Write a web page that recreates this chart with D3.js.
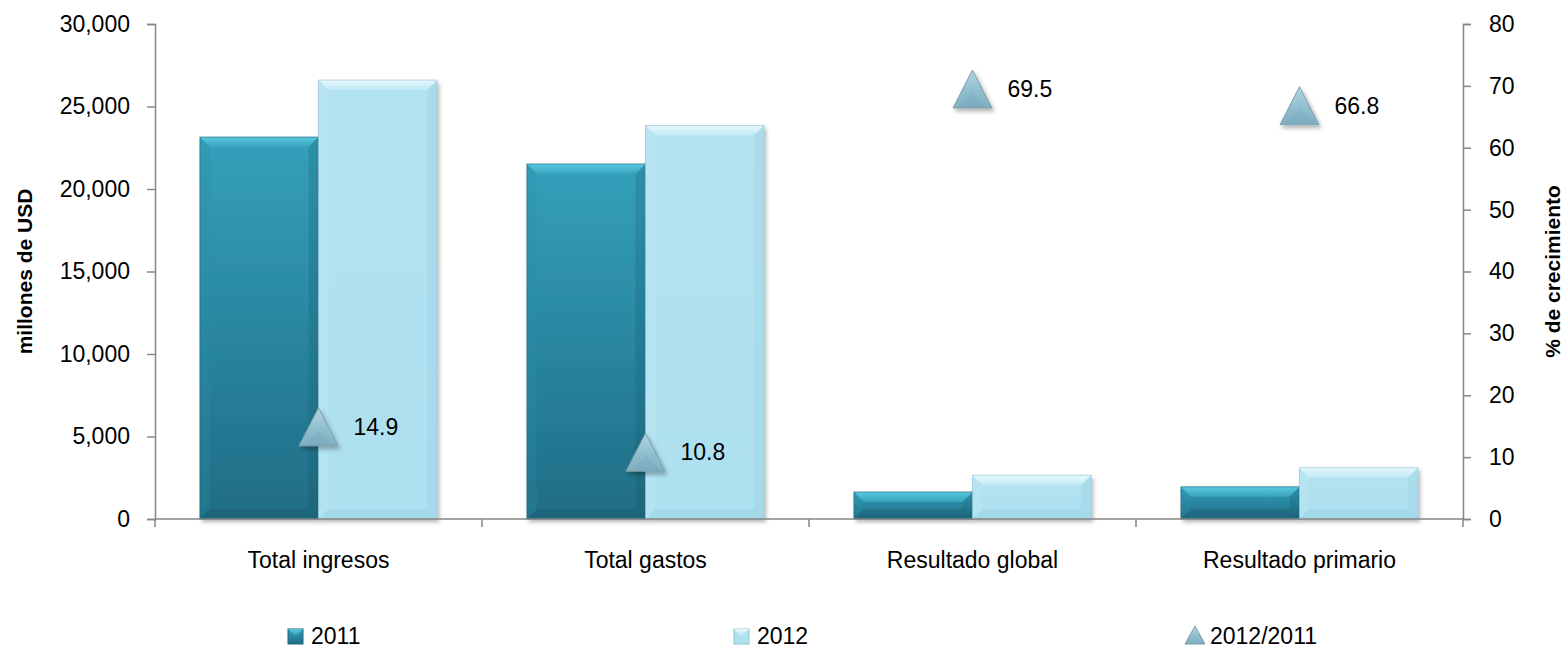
<!DOCTYPE html>
<html>
<head>
<meta charset="utf-8">
<script src="https://cdn.jsdelivr.net/npm/d3@7"></script>
<style>
  html, body { margin: 0; padding: 0; background: #fff; }
  svg { display: block; font-family: "Liberation Sans", Arial, sans-serif; }
</style>
</head>
<body>
<svg id="chart" width="1565" height="650"></svg>
<script>
const categories = ["Total ingresos", "Total gastos", "Resultado global", "Resultado primario"];
const values2011 = [23150, 21520, 1640, 1950];
const values2012 = [26600, 23850, 2650, 3110];
const growth = [14.9, 10.8, 69.5, 66.8];
const leftTicks = [0, 5000, 10000, 15000, 20000, 25000, 30000];
const rightTicks = [0, 10, 20, 30, 40, 50, 60, 70, 80];
const seriesNames = ["2011", "2012", "2012/2011"];

const svg = d3.select("#chart");
const m = { left: 155, right: 1463, top: 24, bottom: 519 };

const x = d3.scaleBand().domain(categories).range([m.left, m.right]).paddingInner(0).paddingOuter(0);
const inner = d3.scaleBand().domain(["2011", "2012"]).range([0, x.bandwidth()]).paddingInner(0).paddingOuter(0.3785);
const yL = d3.scaleLinear().domain([0, 30000]).range([m.bottom, m.top]);
const yR = d3.scaleLinear().domain([0, 80]).range([m.bottom, m.top]);

const defs = svg.append("defs");
function lg(id, stops, vertical = true) {
  const g = defs.append("linearGradient").attr("id", id)
    .attr("x1", 0).attr("y1", 0).attr("x2", vertical ? 0 : 1).attr("y2", vertical ? 1 : 0);
  stops.forEach(s => g.append("stop").attr("offset", s[0]).attr("stop-color", s[1]).attr("stop-opacity", s[2] === undefined ? 1 : s[2]));
}
lg("g2011", [[0, "#34a0bb"], [1, "#1f6d85"]]);
lg("g2012", [[0, "#b3e2f1"], [1, "#ade0ef"]]);
lg("tri", [[0, "#b0d6e3"], [0.55, "#90bfcf"], [1, "#7eafc1"]]);
lg("bev2011", [[0, "#5fd0e8"], [1, "#3aa5c0"]]);
lg("bev2012", [[0, "#f2fcff"], [1, "#c2eaf6"]]);
const f = defs.append("filter").attr("id", "shadow").attr("x", "-20%").attr("y", "-20%").attr("width", "140%").attr("height", "140%");
f.append("feDropShadow").attr("dx", 2).attr("dy", 3).attr("stdDeviation", 2).attr("flood-color", "#000").attr("flood-opacity", 0.3);

const axisColor = "#868686";
const fontSize = 23;

const gL = svg.append("g").attr("transform", `translate(${m.left},0)`)
  .call(d3.axisLeft(yL).tickValues(leftTicks).tickFormat(d3.format(",")).tickSize(8).tickPadding(17));
const gR = svg.append("g").attr("transform", `translate(${m.right},0)`)
  .call(d3.axisRight(yR).tickValues(rightTicks).tickSize(8).tickPadding(18));
[gL, gR].forEach(g => {
  g.select(".domain").attr("stroke", axisColor).attr("stroke-width", 1.5);
  g.selectAll(".tick line").attr("stroke", axisColor).attr("stroke-width", 1.5);
  g.selectAll(".tick text").attr("fill", "#000").attr("font-size", fontSize).style("font-family", "'Liberation Sans', Arial, sans-serif");
});

const catG = svg.append("g").selectAll("g").data(categories).join("g")
  .attr("transform", d => `translate(${x(d)},0)`);

function poly(pts) { return pts.map(p => p.join(",")).join(" "); }
function bevelBar(g, x0, w, yTop, yBot, cls) {
  const h = yBot - yTop;
  const b = Math.min(10, h / 2);
  g.append("rect").attr("x", x0).attr("y", yTop).attr("width", w).attr("height", h)
    .attr("fill", `url(#g${cls})`).attr("filter", "url(#shadow)");
  const dark = cls === "2011" ? "#164f60" : "#8cc4d6";
  const side = cls === "2011" ? "#2b8fa8" : "#c8edf7";
  g.append("polygon").attr("points", poly([[x0, yTop], [x0 + w, yTop], [x0 + w - b, yTop + b], [x0 + b, yTop + b]]))
    .attr("fill", `url(#bev${cls})`).attr("opacity", 0.85);
  g.append("polygon").attr("points", poly([[x0, yTop], [x0 + b, yTop + b], [x0 + b, yBot - b], [x0, yBot]]))
    .attr("fill", side).attr("opacity", 0.25);
  g.append("polygon").attr("points", poly([[x0 + w, yTop], [x0 + w - b, yTop + b], [x0 + w - b, yBot - b], [x0 + w, yBot]]))
    .attr("fill", dark).attr("opacity", 0.2);
  g.append("polygon").attr("points", poly([[x0, yBot], [x0 + b, yBot - b], [x0 + w - b, yBot - b], [x0 + w, yBot]]))
    .attr("fill", dark).attr("opacity", 0.25);
  g.append("rect").attr("x", x0).attr("y", yTop).attr("width", w).attr("height", h)
    .attr("fill", "none").attr("stroke", cls === "2011" ? "#1b6478" : "#8fc3d3").attr("stroke-width", 1).attr("stroke-opacity", 0.6);
}

catG.each(function (d, i) {
  const g = d3.select(this);
  bevelBar(g, inner("2011"), inner.bandwidth(), yL(values2011[i]), yL(0), "2011");
  bevelBar(g, inner("2012"), inner.bandwidth(), yL(values2012[i]), yL(0), "2012");
});

svg.append("line").attr("x1", m.left).attr("x2", m.right).attr("y1", m.bottom).attr("y2", m.bottom)
  .attr("stroke", axisColor).attr("stroke-width", 1.5);
const bounds = categories.map(c => x(c)).concat([m.right]);
svg.append("g").selectAll("line").data(bounds).join("line")
  .attr("x1", d => d).attr("x2", d => d).attr("y1", m.bottom).attr("y2", m.bottom + 8)
  .attr("stroke", axisColor).attr("stroke-width", 1.5);
svg.append("g").selectAll("text").data(categories).join("text")
  .attr("x", d => x(d) + x.bandwidth() / 2).attr("y", 560).attr("dy", "0.35em")
  .attr("text-anchor", "middle").attr("font-size", fontSize).text(d => d);

const triW = 39, triH = 38;
function triPath(cx, cy, w, h) {
  return `M${cx},${cy - h / 2}L${cx + w / 2},${cy + h / 2}L${cx - w / 2},${cy + h / 2}Z`;
}
const mk = svg.append("g");
growth.forEach((v, i) => {
  const cx = x(categories[i]) + x.bandwidth() / 2;
  const cy = yR(v);
  mk.append("path").attr("d", triPath(cx, cy, triW, triH)).attr("fill", "url(#tri)")
    .attr("stroke", "#7f9faa").attr("stroke-width", 1).attr("filter", "url(#shadow)");
  mk.append("path").attr("d", `M${cx},${cy + 3}L${cx + triW / 2 - 5},${cy + triH / 2 - 1}L${cx - triW / 2 + 5},${cy + triH / 2 - 1}Z`)
    .attr("fill", "#6f9db0").attr("opacity", 0.2);
  mk.append("text").attr("x", cx + 35).attr("y", cy).attr("dy", "0.35em")
    .attr("font-size", fontSize).text(d3.format(".1f")(v));
});

svg.append("text").attr("transform", `translate(32,${(m.top + m.bottom) / 2}) rotate(-90)`)
  .attr("text-anchor", "middle").attr("font-weight", "bold").attr("font-size", 21).text("millones de USD");
svg.append("text").attr("transform", `translate(1560,${(m.top + m.bottom) / 2}) rotate(-90)`)
  .attr("text-anchor", "middle").attr("font-weight", "bold").attr("font-size", 21).text("% de crecimiento");

const legendX = [288, 734, 1186];
const lgG = svg.append("g");
seriesNames.forEach((s, i) => {
  const lx = legendX[i], ly = 636;
  if (i < 2) {
    const cls = i === 0 ? "2011" : "2012";
    lgG.append("rect").attr("x", lx).attr("y", ly - 7).attr("width", 15).attr("height", 15)
      .attr("fill", `url(#g${cls})`).attr("stroke", i === 0 ? "#1b6478" : "#8fc3d3");
    lgG.append("polygon").attr("points", `${lx},${ly - 7} ${lx + 15},${ly - 7} ${lx + 7.5},${ly} `)
      .attr("fill", `url(#bev${cls})`).attr("opacity", 0.8);
    lgG.append("text").attr("x", lx + 23).attr("y", ly).attr("dy", "0.35em").attr("font-size", fontSize).text(s);
  } else {
    lgG.append("path").attr("d", triPath(lx + 9, ly - 1, 20, 18)).attr("fill", "url(#tri)").attr("stroke", "#7f9faa");
    lgG.append("text").attr("x", lx + 24).attr("y", ly).attr("dy", "0.35em").attr("font-size", fontSize).text(s);
  }
});
</script>
</body>
</html>
